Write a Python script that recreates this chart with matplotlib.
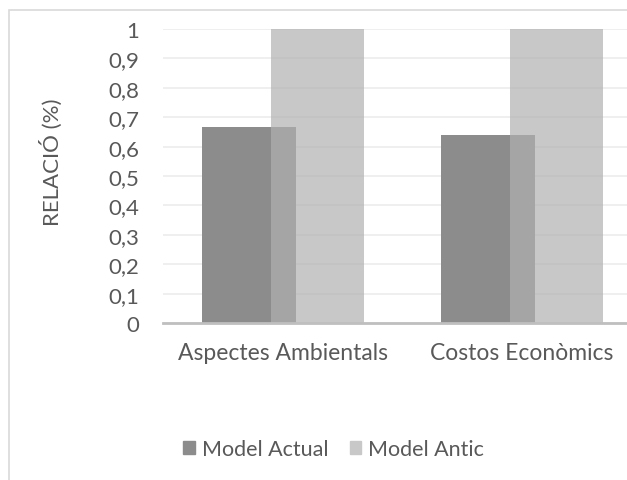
import numpy as np
import matplotlib.pyplot as plt
from matplotlib.patches import Patch, Rectangle

categories = ['Aspectes Ambientals', 'Costos Econòmics']
model_actual = [0.665, 0.638]
model_antic = [1.0, 1.0]
y_ticks = [0, 0.1, 0.2, 0.3, 0.4, 0.5, 0.6, 0.7, 0.8, 0.9, 1]
y_labels = ['0', '0,1', '0,2', '0,3', '0,4', '0,5', '0,6', '0,7', '0,8', '0,9', '1']

plt.rcParams['font.family'] = ['Lato', 'DejaVu Sans']
txt = '#595959'

fig = plt.figure(figsize=(6.27, 4.81), dpi=100)
# chart frame (only top and left edge visible in the crop)
fig.patches.append(Rectangle((8.5 / 627, -0.1), 1.2, 1 - 11 / 481 + 0.1,
                             transform=fig.transFigure, fill=False,
                             edgecolor='#d9d9d9', linewidth=1.2))

ax = fig.add_axes([163 / 627, 1 - 324 / 481, 478 / 627, 294 / 481])
x = np.arange(len(categories))
w = 0.39
ax.bar(x - 0.14, model_actual, w, color='#8c8c8c', zorder=2, label='Model Actual')
ax.bar(x + 0.145, model_antic, w, color='#b1b1b1', alpha=0.7, zorder=3, label='Model Antic')

ax.set_xlim(-0.5, 1.5)
ax.set_ylim(0, 1)
ax.set_yticks(y_ticks)
ax.set_yticklabels(y_labels)
ax.set_xticks(x)
ax.set_xticklabels(categories)
ax.tick_params(axis='y', length=0, pad=17, labelsize=16, labelcolor=txt)
ax.tick_params(axis='x', length=0, pad=14, labelsize=16.5, labelcolor=txt)
ax.grid(axis='y', color='#ececec', linewidth=1.2, zorder=0)
ax.set_axisbelow(True)
for s in ['top', 'right', 'left']:
    ax.spines[s].set_visible(False)
ax.spines['bottom'].set_color('#bfbfbf')
ax.spines['bottom'].set_linewidth(2)
ax.spines['bottom'].set_zorder(4)
ax.set_ylabel('RELACIÓ (%)', fontsize=16, color=txt, labelpad=33, y=0.55)

handles = [Patch(color='#8c8c8c'), Patch(color='#c8c8c8')]
fig.legend(handles, ['Model Actual', 'Model Antic'], loc='center',
           bbox_to_anchor=(0.532, 1 - 450 / 481), ncol=2, frameon=False,
           handlelength=0.55, handleheight=0.55, handletextpad=0.3,
           columnspacing=1.0, fontsize=15.5, labelcolor=txt)

fig.savefig('out.png', dpi=100)
